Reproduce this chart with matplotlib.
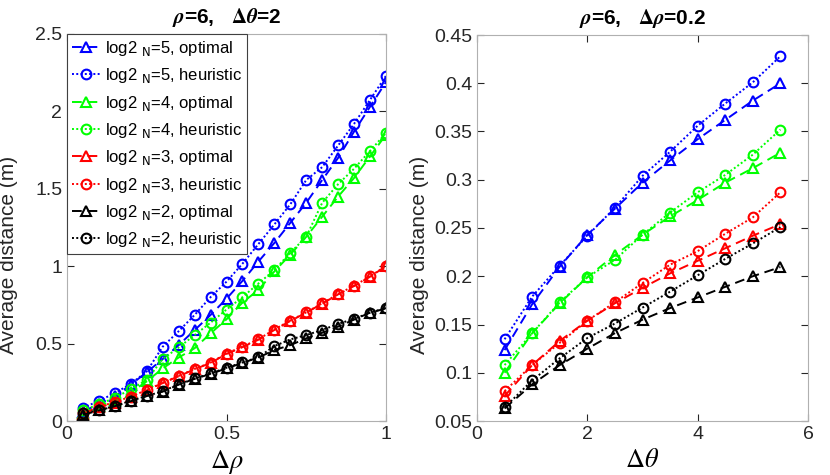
import matplotlib.pyplot as plt
import numpy as np
from matplotlib.ticker import FormatStrFormatter

plt.rcParams['font.family'] = ['Liberation Sans', 'DejaVu Sans']
plt.rcParams['mathtext.fontset'] = 'dejavusans'

# left panel: rho=6, dtheta=2, x = delta rho
drho = [0.05, 0.10, 0.15, 0.20, 0.25, 0.30, 0.35, 0.40, 0.45, 0.50,
        0.55, 0.60, 0.65, 0.70, 0.75, 0.80, 0.85, 0.90, 0.95, 1.00]
L_n5_opt = [0.06, 0.11, 0.16, 0.235, 0.315, 0.40, 0.49, 0.587, 0.685, 0.79,
            0.905, 1.03, 1.15, 1.28, 1.41, 1.557, 1.70, 1.87, 2.03, 2.19]
L_n5_heu = [0.085, 0.13, 0.18, 0.24, 0.32, 0.48, 0.58, 0.685, 0.80, 0.90,
            1.016, 1.143, 1.27, 1.40, 1.557, 1.64, 1.78, 1.92, 2.075, 2.23]
L_n4_opt = [0.05, 0.095, 0.135, 0.185, 0.256, 0.34, 0.41, 0.47, 0.566, 0.657,
            0.765, 0.847, 0.966, 1.075, 1.19, 1.32, 1.45, 1.57, 1.71, 1.85]
L_n4_heu = [0.07, 0.107, 0.15, 0.205, 0.265, 0.40, 0.475, 0.555, 0.635, 0.72,
            0.80, 0.888, 0.975, 1.087, 1.19, 1.41, 1.53, 1.63, 1.745, 1.86]
L_n3_opt = [0.045, 0.088, 0.118, 0.155, 0.198, 0.245, 0.289, 0.334, 0.375, 0.433,
            0.477, 0.525, 0.588, 0.646, 0.70, 0.758, 0.818, 0.872, 0.932, 1.0]
L_n3_heu = [0.05, 0.092, 0.122, 0.158, 0.2, 0.247, 0.291, 0.336, 0.377, 0.436,
            0.48, 0.528, 0.591, 0.649, 0.702, 0.76, 0.82, 0.874, 0.934, 1.002]
L_n2_opt = [0.04, 0.068, 0.096, 0.128, 0.161, 0.19, 0.235, 0.272, 0.304, 0.34,
            0.375, 0.41, 0.458, 0.49, 0.534, 0.57, 0.61, 0.655, 0.70, 0.727]
L_n2_heu = [0.05, 0.07, 0.098, 0.13, 0.162, 0.192, 0.237, 0.275, 0.307, 0.344,
            0.378, 0.412, 0.484, 0.527, 0.555, 0.588, 0.627, 0.66, 0.70, 0.73]

# right panel: rho=6, drho=0.2, x = delta theta
dtheta = [0.5, 1.0, 1.5, 2.0, 2.5, 3.0, 3.5, 4.0, 4.5, 5.0, 5.5]
R_n5_opt = [0.1235, 0.171, 0.210, 0.243, 0.270, 0.297, 0.320, 0.342, 0.362, 0.382, 0.400]
R_n5_heu = [0.1347, 0.179, 0.211, 0.242, 0.271, 0.304, 0.329, 0.356, 0.379, 0.401, 0.428]
R_n4_opt = [0.100, 0.141, 0.172, 0.199, 0.222, 0.243, 0.262, 0.279, 0.297, 0.312, 0.328]
R_n4_heu = [0.108, 0.141, 0.173, 0.199, 0.217, 0.243, 0.266, 0.287, 0.305, 0.326, 0.352]
R_n3_opt = [0.076, 0.108, 0.133, 0.154, 0.172, 0.188, 0.203, 0.216, 0.229, 0.242, 0.254]
R_n3_heu = [0.081, 0.108, 0.131, 0.154, 0.173, 0.193, 0.212, 0.226, 0.244, 0.261, 0.287]
R_n2_opt = [0.063, 0.088, 0.108, 0.125, 0.141, 0.155, 0.167, 0.178, 0.189, 0.200, 0.2095]
R_n2_heu = [0.064, 0.092, 0.115, 0.136, 0.151, 0.1675, 0.184, 0.201, 0.218, 0.234, 0.251]

colors = ['#0000ff', '#00ff00', '#ff0000', '#000000']
nvals = [5, 4, 3, 2]
left_series = [(L_n5_opt, L_n5_heu), (L_n4_opt, L_n4_heu), (L_n3_opt, L_n3_heu), (L_n2_opt, L_n2_heu)]
right_series = [(R_n5_opt, R_n5_heu), (R_n4_opt, R_n4_heu), (R_n3_opt, R_n3_heu), (R_n2_opt, R_n2_heu)]

fig = plt.figure(figsize=(8.3, 4.75), dpi=100)
ax1 = fig.add_axes([67/830, 1-421/475, 319/830, 387/475])
ax2 = fig.add_axes([477/830, 1-421/475, 331/830, 386/475])

def draw(ax, x, series):
    for c, n, (opt, heu) in zip(colors, nvals, series):
        ax.plot(x, opt, linestyle=(0, (5, 3)), color=c, lw=1.4, marker='^', ms=7,
                mfc='none', mew=1.5, label=r'log2 $_{\mathrm{N}}$=%d, optimal' % n)
        ax.plot(x, heu, linestyle=(0, (1, 1.2)), color=c, lw=1.4, marker='o', ms=7,
                mfc='none', mew=1.5, label=r'log2 $_{\mathrm{N}}$=%d, heuristic' % n)

draw(ax1, drho, left_series)
draw(ax2, dtheta, right_series)

for ax in (ax1, ax2):
    ax.tick_params(direction='in', top=True, right=True, labelsize=14, length=5,
                   colors='#262626')
    for s in ax.spines.values():
        s.set_color('#b0b0b0')
    ax.set_ylabel('Average distance (m)', fontsize=15, color='#262626')
    ax.yaxis.set_major_formatter(FormatStrFormatter('%g'))
    ax.xaxis.set_major_formatter(FormatStrFormatter('%g'))

ax1.set_xlim(0, 1)
ax1.set_ylim(0, 2.5)
ax1.set_xticks([0, 0.5, 1])
ax1.set_yticks([0, 0.5, 1, 1.5, 2, 2.5])
ax1.set_xlabel(r'$\Delta\rho$', fontsize=19, math_fontfamily='stix')
ax1.set_title(r'$\mathbfit{\rho}$=6,   $\mathbf{\Delta}\mathbfit{\theta}$=2', fontsize=15,
              fontweight='bold', math_fontfamily='stix', pad=8)
ax1.yaxis.set_label_coords(-0.155, 0.43)

ax2.set_xlim(0, 6)
ax2.set_ylim(0.05, 0.45)
ax2.set_xticks([0, 2, 4, 6])
ax2.set_yticks(np.arange(0.05, 0.451, 0.05))
ax2.set_xlabel(r'$\Delta\theta$', fontsize=19, math_fontfamily='stix')
ax2.set_title(r'$\mathbfit{\rho}$=6,   $\mathbf{\Delta}\mathbfit{\rho}$=0.2', fontsize=15,
              fontweight='bold', math_fontfamily='stix', pad=8)
ax2.yaxis.set_label_coords(-0.145, 0.43)

leg = ax1.legend(loc='upper left', fontsize=12, handlelength=1.7, handletextpad=0.3,
                 borderaxespad=0.0, labelspacing=0.5, fancybox=False, framealpha=1,
                 borderpad=0.3)
leg.get_frame().set_edgecolor('#404040')
leg.get_frame().set_linewidth(0.8)

fig.savefig('out.png', dpi=100)
